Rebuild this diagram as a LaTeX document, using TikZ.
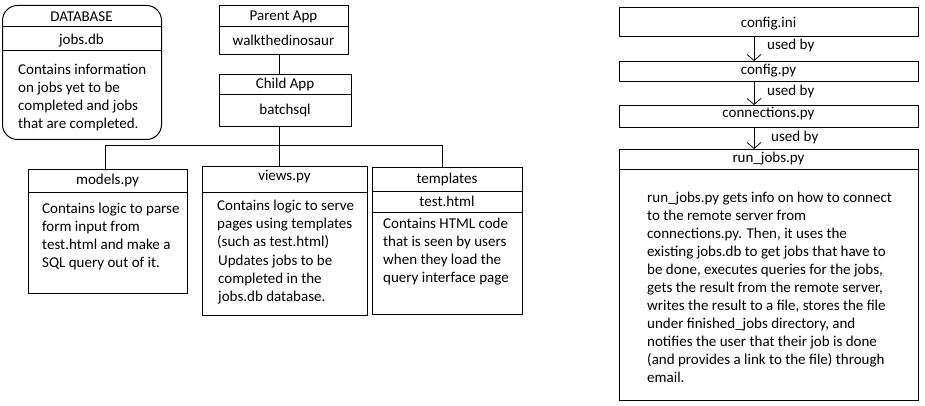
\documentclass[tikz,border=0pt]{standalone}
\usepackage{fontspec}
\setmainfont{Carlito}
\usetikzlibrary{arrows.meta}
\tikzset{
  boxshape/.style={draw, line width=1pt, inner sep=0pt, anchor=north west},
  txt/.style={inner sep=0pt, anchor=base, font=\fontsize{15}{18}\selectfont},
  para/.style={inner sep=0pt, anchor=base west, align=left, font=\fontsize{15}{18}\selectfont},
  divider/.style={line width=1pt},
  conn/.style={line width=1pt},
  usedby/.style={line width=0.8pt, -{Straight Barb[length=6pt,width=14pt]}},
}
\begin{document}
\begin{tikzpicture}[x=1pt,y=-1pt]
\useasboundingbox (0,0) rectangle (925,406);
% DATABASE
\node[boxshape, rounded corners=15pt, minimum width=159pt, minimum height=134pt] (db) at (2,5) {};
\draw[divider] (2,27) -- (161,27);
\draw[divider] (2,51) -- (161,51);
\node[txt] (dbt) at (81.5,22) {DATABASE};
\node[txt] (dbn) at (81.5,45) {jobs.db};
\node[para] (dbp) at (18,129) {Contains information\\on jobs yet to be\\completed and jobs\\that are completed.};
% Parent App
\node[boxshape, minimum width=129pt, minimum height=49pt] (parent) at (219,5) {};
\draw[divider] (219,27) -- (348,27);
\node[txt] (pt) at (283.5,21) {Parent App};
\node[txt] (pn) at (283.5,46) {walkthedinosaur};
% Child App
\node[boxshape, minimum width=132pt, minimum height=52pt] (child) at (219,74) {};
\draw[divider] (219,95) -- (351,95);
\node[txt] (ct) at (285,89) {Child App};
\node[txt] (cn) at (285,115) {batchsql};
\coordinate (pbot) at (279,54);
\coordinate (ctop) at (279,74);
\coordinate (cbot) at (279,126);
\draw[conn] (pbot) -- (ctop);
% models
\node[boxshape, minimum width=159pt, minimum height=124pt] (models) at (28,169) {};
\draw[divider] (28,192) -- (187,192);
\node[txt] (mt) at (107.5,184) {models.py};
\node[para] (mp) at (42,267) {Contains logic to parse\\form input from\\test.html and make a\\SQL query out of it.};
% views
\node[boxshape, minimum width=165pt, minimum height=149pt] (views) at (202,166) {};
\draw[divider] (202,192) -- (367,192);
\node[txt] (vt) at (284.5,180) {views.py};
\node[para] (vp) at (217,246) {Contains logic to serve\\pages using templates\\(such as test.html)};
\node[para] (vp2) at (218,301) {Updates jobs to be\\completed in the\\jobs.db database.};
% templates
\node[boxshape, minimum width=150pt, minimum height=147pt] (tmpl) at (372,167) {};
\draw[divider] (372,191) -- (522,191);
\draw[divider] (372,212) -- (522,212);
\node[txt] (tt) at (447,183) {templates};
\node[txt] (tn) at (447,206) {test.html};
\node[para] (tp) at (383,282) {Contains HTML code\\that is seen by users\\when they load the\\query interface page};
% bus
\coordinate (bus) at (279,146);
\coordinate (busl) at (105,146);
\coordinate (busr) at (442,146);
\coordinate (mtop) at (105,169);
\coordinate (vtop) at (279,166);
\coordinate (ttop) at (442,167);
\draw[conn] (cbot) -- (bus);
\draw[conn] (mtop) -- (busl) -- (busr) -- (ttop);
\draw[conn] (bus) -- (vtop);
% right column
\node[boxshape, minimum width=299pt, minimum height=29pt] (ini) at (619,7) {};
\node[txt] (init) at (768.5,28) {config.ini};
\node[boxshape, minimum width=299pt, minimum height=20pt] (cfg) at (619,61) {};
\node[txt] (cfgt) at (768.5,75) {config.py};
\node[boxshape, minimum width=299pt, minimum height=22pt] (conns) at (619,105) {};
\node[txt] (connst) at (768.5,118) {connections.py};
\node[boxshape, minimum width=299pt, minimum height=251pt] (run) at (619,149) {};
\draw[divider] (619,170) -- (918,170);
\node[txt] (runt) at (768.5,163) {run\_jobs.py};
\node[para] (runp) at (647,382) {run\_jobs.py gets info on how to connect\\to the remote server from\\connections.py. Then, it uses the\\existing jobs.db to get jobs that have to\\be done, executes queries for the jobs,\\gets the result from the remote server,\\writes the result to a file, stores the file\\under finished\_jobs directory, and\\notifies the user that their job is done\\(and provides a link to the file) through\\email.};
\coordinate (a1s) at (754,36);
\coordinate (a1e) at (754,61);
\coordinate (a2s) at (754,81);
\coordinate (a2e) at (754,105);
\coordinate (a3s) at (754,127);
\coordinate (a3e) at (754,149);
\draw[usedby] (a1s) -- (a1e);
\draw[usedby] (a2s) -- (a2e);
\draw[usedby] (a3s) -- (a3e);
\node[para] (u1) at (767,50) {used by};
\node[para] (u2) at (767,96) {used by};
\node[para] (u3) at (771,142) {used by};
\end{tikzpicture}
\end{document}
